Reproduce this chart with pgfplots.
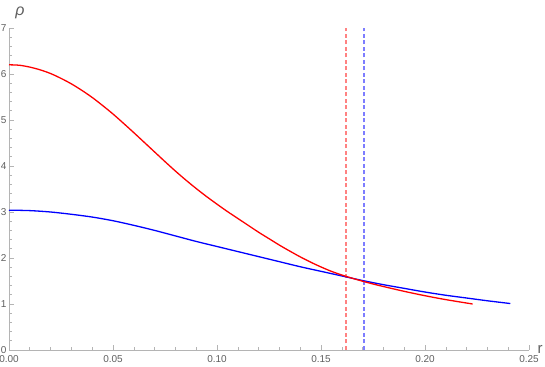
\documentclass[border=0pt]{standalone}
\usepackage{fontspec}
\setmainfont{Liberation Sans}
\usepackage{pgfplots}
\pgfplotsset{compat=1.18}
\definecolor{axisgray}{RGB}{180,180,180}
\definecolor{labelgray}{RGB}{95,95,95}
\definecolor{dashred}{RGB}{255,130,130}
\definecolor{dashblue}{RGB}{125,125,255}
\begin{document}
\begin{tikzpicture}
\begin{axis}[
    scale only axis,
    width=520pt, height=322pt,
    xmin=0, xmax=0.25,
    ymin=0, ymax=7,
    axis lines*=left,
    axis line style={axisgray, line width=0.7pt},
    tick align=inside,
    xtick={0,0.05,0.1,0.15,0.2,0.25},
    ytick={0,1,2,3,4,5,6,7},
    minor x tick num=4,
    minor y tick num=4,
    major tick length=5pt,
    minor tick length=3pt,
    every tick/.style={axisgray, line width=0.6pt},
    ticklabel style={font=\fontsize{10}{11}\selectfont, text=labelgray},
    xticklabel style={yshift=-2pt, /pgf/number format/.cd, fixed, fixed zerofill, precision=2},
    yticklabel style={xshift=1pt},
    /pgf/number format/assume math mode=true,
    clip=false,
]

% dashed markers
\addplot[draw=dashred, line width=1.8pt, dash pattern=on 4pt off 2.5pt] coordinates {
    (0.162,0) (0.162,7)
};
\addplot[draw=dashblue, line width=1.8pt, dash pattern=on 4pt off 2.5pt] coordinates {
    (0.1705,0) (0.1705,7)
};

\addplot[blue, line width=1.3pt, smooth] coordinates {
    (0,3.04) (0.01,3.03) (0.02,3.00) (0.03,2.95) (0.04,2.89) (0.05,2.81)
    (0.06,2.71) (0.07,2.60) (0.08,2.48) (0.09,2.36) (0.10,2.25) (0.11,2.14)
    (0.12,2.03) (0.13,1.92) (0.14,1.81) (0.15,1.71) (0.16,1.61) (0.17,1.51)
    (0.18,1.42) (0.19,1.34) (0.20,1.26) (0.21,1.19) (0.22,1.13) (0.23,1.07)
    (0.241,1.01)
};

\addplot[red, line width=1.3pt, smooth] coordinates {
    (0,6.20) (0.005,6.19) (0.01,6.15) (0.015,6.09) (0.02,6.01) (0.025,5.905)
    (0.03,5.785) (0.035,5.645) (0.04,5.49) (0.045,5.315) (0.05,5.13)
    (0.055,4.93) (0.06,4.725) (0.065,4.515) (0.07,4.305) (0.075,4.095)
    (0.08,3.89) (0.085,3.695) (0.09,3.51) (0.095,3.335) (0.10,3.17)
    (0.105,3.01) (0.11,2.86) (0.115,2.71) (0.12,2.56) (0.125,2.42)
    (0.13,2.28) (0.135,2.15) (0.14,2.025) (0.145,1.91) (0.15,1.805)
    (0.155,1.71) (0.16,1.63) (0.165,1.56) (0.17,1.495) (0.175,1.435)
    (0.18,1.38) (0.19,1.275) (0.20,1.18) (0.21,1.095) (0.2229,1.00)
};

\node[anchor=base, xshift=11pt, yshift=12pt, text=labelgray,
      font=\fontsize{16}{16}\selectfont\itshape] at (axis description cs:0,1) {ρ};
\node[anchor=base, xshift=11pt, yshift=-4pt, text=labelgray,
      font=\fontsize{15}{15}\selectfont] at (axis description cs:1,0) {r};
\end{axis}
\pgfresetboundingbox
\path ([xshift=-9pt,yshift=-17pt]current axis.south west)
    rectangle ([xshift=16pt,yshift=28pt]current axis.north east);
\end{tikzpicture}
\end{document}
